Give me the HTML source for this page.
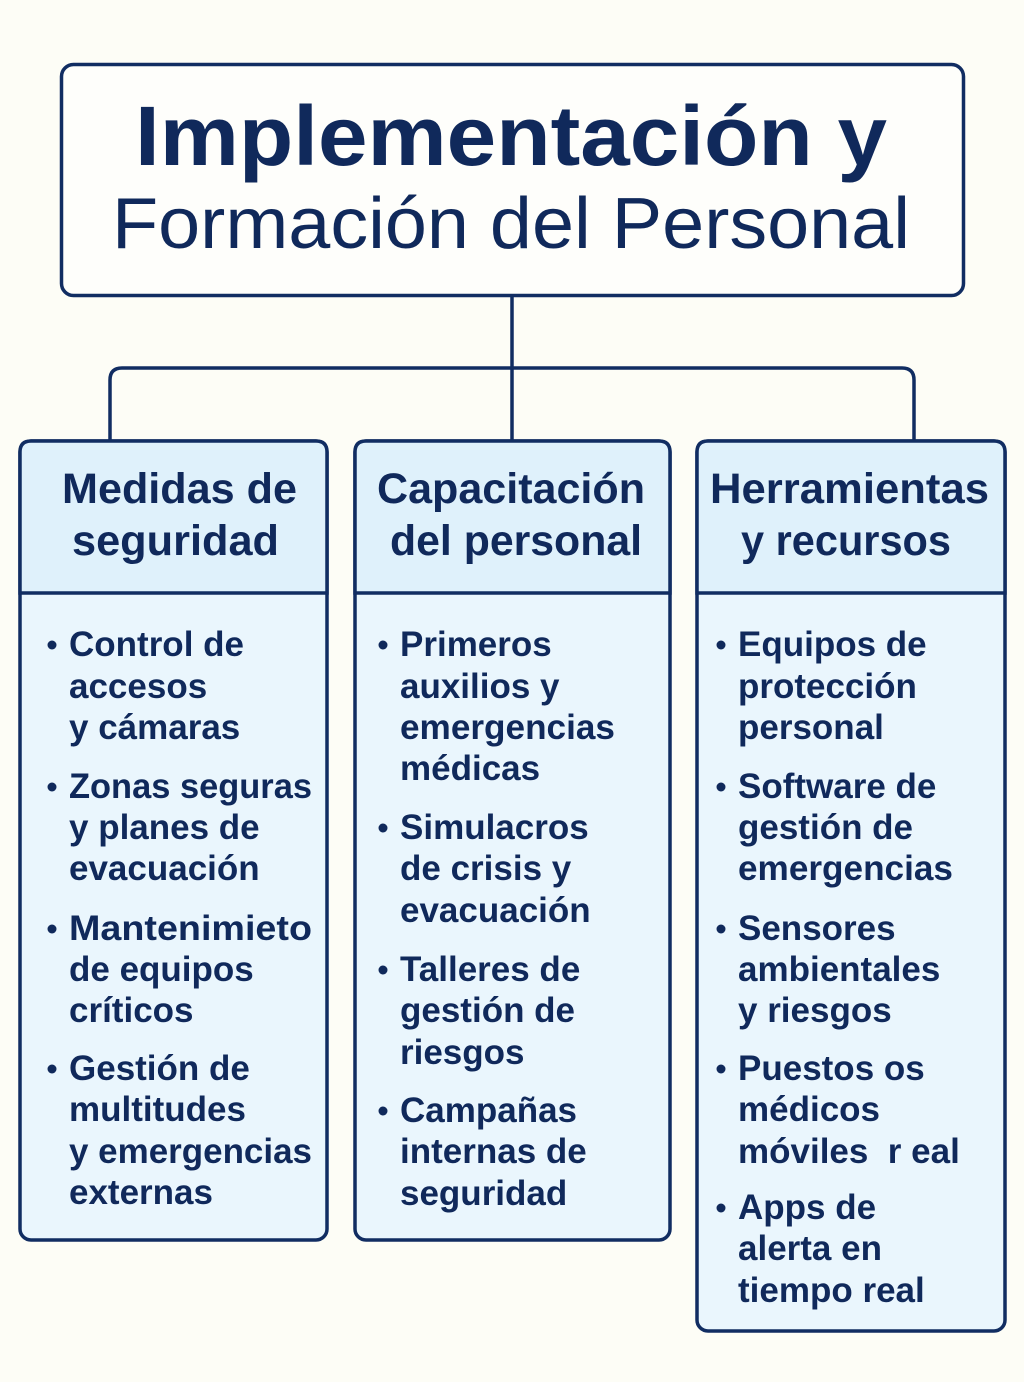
<!DOCTYPE html>
<html><head><meta charset="utf-8"><style>
html,body{margin:0;padding:0;background:#fdfdf6;}
svg{display:block}
text{font-family:"Liberation Sans",sans-serif;fill:#10295b;}
.h{font-weight:bold;font-size:43px;}
.i{font-weight:bold;font-size:35px;}
</style></head><body>
<svg width="1024" height="1382" viewBox="0 0 1024 1382" xmlns="http://www.w3.org/2000/svg">
<rect x="0" y="0" width="1024" height="1382" fill="#fdfdf6"/>
<g stroke="#112d62" stroke-width="3.5" fill="none">
<rect x="61.5" y="64.5" width="902" height="231" rx="12" fill="#fefefb"/>
<line x1="512" y1="296" x2="512" y2="441"/>
<path d="M110 441 V380 Q110 368 122 368 H902 Q914 368 914 380 V441"/>
</g>
<text x="135" y="165" font-weight="bold" font-size="84" textLength="752" lengthAdjust="spacingAndGlyphs">Implementación y</text>
<text x="112" y="248" font-size="72" textLength="798" lengthAdjust="spacingAndGlyphs">Formación del Personal</text>

<g stroke="#112d62" stroke-width="3.5">
<rect x="20" y="441" width="307" height="799" rx="11" fill="#eaf6fd"/>
<path d="M20 593 V452 Q20 441 31 441 H316 Q327 441 327 452 V593 Z" fill="#dff1fb"/>
<rect x="355" y="441" width="315" height="799" rx="11" fill="#eaf6fd"/>
<path d="M355 593 V452 Q355 441 366 441 H659 Q670 441 670 452 V593 Z" fill="#dff1fb"/>
<rect x="697" y="441" width="308" height="890" rx="11" fill="#eaf6fd"/>
<path d="M697 593 V452 Q697 441 708 441 H994 Q1005 441 1005 452 V593 Z" fill="#dff1fb"/>
</g>

<text class="h" x="62" y="503" textLength="235" lengthAdjust="spacingAndGlyphs">Medidas de</text>
<text class="h" x="72" y="555" textLength="207" lengthAdjust="spacingAndGlyphs">seguridad</text>
<text class="h" x="377" y="503" textLength="268" lengthAdjust="spacingAndGlyphs">Capacitación</text>
<text class="h" x="390" y="555" textLength="252" lengthAdjust="spacingAndGlyphs">del personal</text>
<text class="h" x="710" y="503" textLength="279" lengthAdjust="spacingAndGlyphs">Herramientas</text>
<text class="h" x="741" y="555" textLength="210" lengthAdjust="spacingAndGlyphs">y recursos</text>

<g fill="#10295b">
<circle cx="52" cy="645" r="4.5"/><circle cx="52" cy="787" r="4.5"/><circle cx="52" cy="929" r="4.5"/><circle cx="52" cy="1069" r="4.5"/>
<circle cx="383" cy="645" r="4.5"/><circle cx="383" cy="828" r="4.5"/><circle cx="383" cy="970" r="4.5"/><circle cx="383" cy="1111" r="4.5"/>
<circle cx="721" cy="645" r="4.5"/><circle cx="721" cy="787" r="4.5"/><circle cx="721" cy="929" r="4.5"/><circle cx="721" cy="1069" r="4.5"/><circle cx="721" cy="1208" r="4.5"/>
</g>

<g class="i">
<text class="i" x="69" y="656">Control de</text>
<text class="i" x="69" y="698">accesos</text>
<text class="i" x="69" y="739">y cámaras</text>
<text class="i" x="69" y="798" textLength="243" lengthAdjust="spacingAndGlyphs">Zonas seguras</text>
<text class="i" x="69" y="839">y planes de</text>
<text class="i" x="69" y="880">evacuación</text>
<text class="i" x="69" y="940" textLength="243" lengthAdjust="spacingAndGlyphs">Mantenimieto</text>
<text class="i" x="69" y="981">de equipos</text>
<text class="i" x="69" y="1022">críticos</text>
<text class="i" x="69" y="1080">Gestión de</text>
<text class="i" x="69" y="1121">multitudes</text>
<text class="i" x="69" y="1163" textLength="243" lengthAdjust="spacingAndGlyphs">y emergencias</text>
<text class="i" x="69" y="1204">externas</text>

<text class="i" x="400" y="656">Primeros</text>
<text class="i" x="400" y="698">auxilios y</text>
<text class="i" x="400" y="739" textLength="215" lengthAdjust="spacingAndGlyphs">emergencias</text>
<text class="i" x="400" y="780">médicas</text>
<text class="i" x="400" y="839">Simulacros</text>
<text class="i" x="400" y="880">de crisis y</text>
<text class="i" x="400" y="922">evacuación</text>
<text class="i" x="400" y="981">Talleres de</text>
<text class="i" x="400" y="1022">gestión de</text>
<text class="i" x="400" y="1064">riesgos</text>
<text class="i" x="400" y="1122">Campañas</text>
<text class="i" x="400" y="1163">internas de</text>
<text class="i" x="400" y="1205">seguridad</text>

<text class="i" x="738" y="656">Equipos de</text>
<text class="i" x="738" y="698">protección</text>
<text class="i" x="738" y="739">personal</text>
<text class="i" x="738" y="798">Software de</text>
<text class="i" x="738" y="839">gestión de</text>
<text class="i" x="738" y="880" textLength="215" lengthAdjust="spacingAndGlyphs">emergencias</text>
<text class="i" x="738" y="940">Sensores</text>
<text class="i" x="738" y="981">ambientales</text>
<text class="i" x="738" y="1022">y riesgos</text>
<text class="i" x="738" y="1080">Puestos os</text>
<text class="i" x="738" y="1121">médicos</text>
<text class="i" x="738" y="1163" xml:space="preserve">móviles  r eal</text>
<text class="i" x="738" y="1219">Apps de</text>
<text class="i" x="738" y="1260">alerta en</text>
<text class="i" x="738" y="1302">tiempo real</text>
</g>
</svg>
</body></html>
